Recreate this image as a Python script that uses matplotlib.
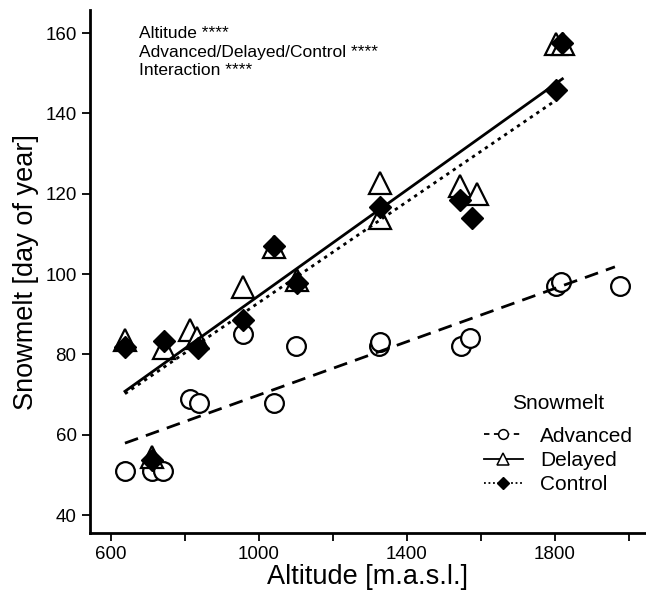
import matplotlib
matplotlib.use('Agg')
import matplotlib.pyplot as plt
from matplotlib.lines import Line2D

plt.rcParams['font.family'] = ['Liberation Sans', 'DejaVu Sans']

# Advanced snowmelt (open circles)
adv_x = [638, 711, 741, 813, 838, 957, 1040, 1100, 1324, 1327, 1546, 1570, 1803, 1816, 1976]
adv_y = [51, 51, 51, 69, 68, 85, 68, 82, 82, 83, 82, 84, 97, 98, 97]

# Delayed snowmelt (open triangles)
del_x = [638, 711, 743, 813, 832, 957, 1040, 1103, 1327, 1327, 1543, 1589, 1803, 1822]
del_y = [83.6, 54.4, 81.6, 86, 84, 96.8, 106.7, 98.5, 122.7, 114, 122, 120, 157.3, 157.3]

# Control (filled diamonds)
ctl_x = [638, 711, 743, 835, 957, 1040, 1103, 1327, 1543, 1576, 1803, 1819]
ctl_y = [81.8, 53.7, 83.4, 81.6, 88.6, 107, 97.8, 116.7, 118.5, 114, 145.8, 157.5]

# regression line end points
adv_fit_x = [638, 1962]
adv_fit_y = [57.9, 101.8]
del_fit_x = [638, 1820]
del_fit_y = [70.8, 148.6]
ctl_fit_x = [638, 1803]
ctl_fit_y = [70.2, 143.3]

xticks = [600, 1000, 1400, 1800]
xminor = [800, 1200, 1600, 2000]
yticks = [40, 60, 80, 100, 120, 140, 160]

fig = plt.figure(figsize=(6.46, 5.99), dpi=100)
ax = fig.add_axes([0.139, 0.110, 0.861, 0.873])

ax.plot(adv_x, adv_y, 'o', ms=13.5, mfc='white', mec='black', mew=1.6, zorder=3)
ax.plot(del_x, del_y, '^', ms=16.5, mfc='white', mec='black', mew=1.6, zorder=4)
ax.plot(ctl_x, ctl_y, 'D', ms=11.5, mfc='black', mec='black', mew=1.0, zorder=5)

ax.plot(adv_fit_x, adv_fit_y, color='black', lw=2.0, ls=(0, (5, 3)), zorder=6)
ax.plot(del_fit_x, del_fit_y, color='black', lw=2.0, ls='-', zorder=6)
ax.plot(ctl_fit_x, ctl_fit_y, color='black', lw=2.0, ls=(0, (1.2, 1.6)), zorder=6)

ax.set_xlim(543, 2046)
ax.set_ylim(35.5, 165.7)
ax.set_xticks(xticks)
ax.set_xticks(xminor, minor=True)
ax.set_yticks(yticks)
ax.tick_params(axis='both', which='both', direction='out', length=6, width=1.3,
               labelsize=13.5, colors='black', pad=3.5)

for s in ['top', 'right']:
    ax.spines[s].set_visible(False)
for s in ['left', 'bottom']:
    ax.spines[s].set_linewidth(2.0)

ax.set_xlabel('Altitude [m.a.s.l.]', fontsize=19.5, va='center')
ax.set_ylabel('Snowmelt [day of year]', fontsize=19.5, va='center')
ax.xaxis.set_label_coords(0.5, -0.084)
ax.yaxis.set_label_coords(-0.115, 0.5)

ax.text(0.088, 0.969,
        'Altitude ****\nAdvanced/Delayed/Control ****\nInteraction ****',
        transform=ax.transAxes, fontsize=12.5, va='top', ha='left', linespacing=1.28)

handles = [
    Line2D([], [], color='black', lw=1.3, ls=(0, (3, 2.5)), marker='o', ms=7,
           mfc='white', mec='black', mew=1.1),
    Line2D([], [], color='black', lw=1.3, ls='-', marker='^', ms=9,
           mfc='white', mec='black', mew=1.1),
    Line2D([], [], color='black', lw=1.3, ls=(0, (1, 1.5)), marker='D', ms=6.5,
           mfc='black', mec='black'),
]
fig.text(0.864, 0.327, 'Snowmelt', fontsize=15, ha='center', va='center')
leg = ax.legend(handles, ['Advanced', 'Delayed', 'Control'],
                loc='upper left', bbox_to_anchor=(0.7195, 0.319),
                bbox_transform=fig.transFigure, frameon=False,
                fontsize=15, handlelength=1.9,
                handletextpad=0.8, labelspacing=0.25)

plt.savefig('out.png', dpi=100)
